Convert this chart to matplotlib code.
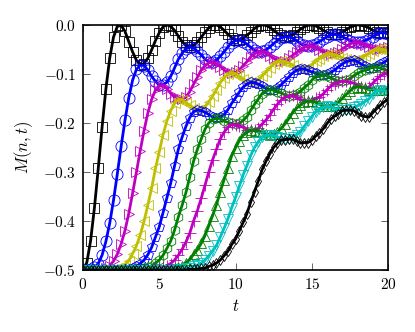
import matplotlib
matplotlib.use('Agg')
import matplotlib.pyplot as plt
from matplotlib.ticker import FuncFormatter

plt.rcParams['mathtext.fontset'] = 'cm'

t = [0.0, 0.25, 0.5, 0.75, 1.0, 1.25, 1.5, 1.75, 2.0, 2.25, 2.5, 2.75, 3.0, 3.25, 3.5, 3.75,
     4.0, 4.25, 4.5, 4.75, 5.0, 5.25, 5.5, 5.75, 6.0, 6.25, 6.5, 6.75, 7.0, 7.25, 7.5, 7.75,
     8.0, 8.25, 8.5, 8.75, 9.0, 9.25, 9.5, 9.75, 10.0, 10.25, 10.5, 10.75, 11.0, 11.25, 11.5, 11.75,
     12.0, 12.25, 12.5, 12.75, 13.0, 13.25, 13.5, 13.75, 14.0, 14.25, 14.5, 14.75, 15.0, 15.25, 15.5, 15.75,
     16.0, 16.25, 16.5, 16.75, 17.0, 17.25, 17.5, 17.75, 18.0, 18.25, 18.5, 18.75, 19.0, 19.25, 19.5, 19.75,
     20.0]

M1 = [-0.500, -0.485, -0.440, -0.373, -0.293, -0.209, -0.131, -0.068,
      -0.025, -0.003, -0.001, -0.013, -0.034, -0.055, -0.072, -0.081,
      -0.079, -0.068, -0.051, -0.032, -0.016, -0.004, -0.000, -0.003,
      -0.011, -0.023, -0.034, -0.042, -0.045, -0.042, -0.035, -0.025,
      -0.015, -0.006, -0.001, -0.000, -0.004, -0.011, -0.019, -0.026,
      -0.030, -0.031, -0.028, -0.021, -0.015, -0.007, -0.002, -0.000,
      -0.001, -0.005, -0.011, -0.017, -0.021, -0.024, -0.023, -0.020,
      -0.015, -0.009, -0.004, -0.001, -0.000, -0.002, -0.006, -0.011,
      -0.015, -0.018, -0.019, -0.018, -0.014, -0.010, -0.005, -0.002,
      -0.000, -0.001, -0.003, -0.006, -0.011, -0.014, -0.016, -0.016,
      -0.014]

M2 = [-0.500, -0.500, -0.499, -0.495, -0.487, -0.470, -0.442, -0.405,
      -0.358, -0.304, -0.248, -0.195, -0.149, -0.113, -0.091, -0.082,
      -0.083, -0.092, -0.105, -0.115, -0.123, -0.122, -0.117, -0.105,
      -0.088, -0.070, -0.058, -0.049, -0.045, -0.047, -0.054, -0.061,
      -0.070, -0.075, -0.076, -0.072, -0.064, -0.055, -0.045, -0.036,
      -0.032, -0.031, -0.034, -0.039, -0.046, -0.052, -0.055, -0.054,
      -0.051, -0.045, -0.038, -0.032, -0.026, -0.024, -0.025, -0.027,
      -0.032, -0.038, -0.041, -0.043, -0.042, -0.038, -0.034, -0.029,
      -0.024, -0.020, -0.019, -0.021, -0.024, -0.028, -0.032, -0.034,
      -0.035, -0.035, -0.032, -0.028, -0.024, -0.018, -0.016, -0.016,
      -0.018]

M3 = [-0.500, -0.500, -0.500, -0.500, -0.500, -0.499, -0.496, -0.491,
      -0.482, -0.468, -0.447, -0.420, -0.385, -0.344, -0.301, -0.257,
      -0.216, -0.180, -0.152, -0.133, -0.125, -0.124, -0.130, -0.140,
      -0.147, -0.151, -0.152, -0.147, -0.136, -0.121, -0.107, -0.092,
      -0.083, -0.077, -0.076, -0.080, -0.085, -0.092, -0.097, -0.098,
      -0.097, -0.092, -0.083, -0.075, -0.065, -0.059, -0.055, -0.055,
      -0.058, -0.063, -0.068, -0.072, -0.074, -0.073, -0.068, -0.062,
      -0.056, -0.050, -0.045, -0.044, -0.044, -0.046, -0.051, -0.055,
      -0.058, -0.059, -0.058, -0.055, -0.049, -0.044, -0.039, -0.036,
      -0.036, -0.038, -0.041, -0.045, -0.048, -0.049, -0.049, -0.047,
      -0.045]

M4 = [-0.500, -0.500, -0.500, -0.500, -0.500, -0.500, -0.500, -0.500,
      -0.499, -0.497, -0.494, -0.489, -0.481, -0.467, -0.451, -0.429,
      -0.401, -0.368, -0.333, -0.293, -0.259, -0.224, -0.196, -0.175,
      -0.160, -0.152, -0.153, -0.159, -0.164, -0.169, -0.173, -0.171,
      -0.167, -0.157, -0.145, -0.132, -0.118, -0.108, -0.101, -0.098,
      -0.100, -0.105, -0.110, -0.115, -0.117, -0.116, -0.112, -0.104,
      -0.096, -0.088, -0.080, -0.076, -0.074, -0.075, -0.078, -0.082,
      -0.087, -0.090, -0.089, -0.088, -0.082, -0.074, -0.069, -0.064,
      -0.060, -0.059, -0.061, -0.064, -0.067, -0.070, -0.072, -0.072,
      -0.070, -0.068, -0.063, -0.059, -0.054, -0.050, -0.049, -0.051,
      -0.054]

M5 = [-0.500, -0.500, -0.500, -0.500, -0.500, -0.500, -0.500, -0.500,
      -0.500, -0.500, -0.500, -0.499, -0.498, -0.496, -0.493, -0.487,
      -0.480, -0.469, -0.454, -0.433, -0.412, -0.383, -0.353, -0.323,
      -0.288, -0.254, -0.229, -0.207, -0.189, -0.177, -0.174, -0.175,
      -0.178, -0.183, -0.188, -0.191, -0.188, -0.183, -0.173, -0.160,
      -0.149, -0.137, -0.127, -0.121, -0.117, -0.118, -0.121, -0.125,
      -0.130, -0.132, -0.132, -0.129, -0.122, -0.114, -0.106, -0.098,
      -0.093, -0.090, -0.090, -0.093, -0.096, -0.098, -0.102, -0.103,
      -0.101, -0.097, -0.092, -0.086, -0.080, -0.075, -0.073, -0.072,
      -0.075, -0.080, -0.084, -0.087, -0.087, -0.083, -0.080, -0.076,
      -0.071]

M6 = [-0.500, -0.500, -0.500, -0.500, -0.500, -0.500, -0.500, -0.500,
      -0.500, -0.500, -0.500, -0.500, -0.500, -0.500, -0.499, -0.499,
      -0.497, -0.495, -0.492, -0.486, -0.480, -0.470, -0.456, -0.441,
      -0.419, -0.392, -0.368, -0.342, -0.310, -0.278, -0.254, -0.233,
      -0.213, -0.200, -0.193, -0.191, -0.191, -0.196, -0.199, -0.201,
      -0.203, -0.201, -0.195, -0.187, -0.174, -0.162, -0.151, -0.140,
      -0.135, -0.132, -0.133, -0.136, -0.139, -0.143, -0.145, -0.143,
      -0.141, -0.136, -0.128, -0.122, -0.113, -0.105, -0.104, -0.103,
      -0.104, -0.108, -0.112, -0.115, -0.115, -0.113, -0.110, -0.104,
      -0.099, -0.095, -0.092, -0.089, -0.087, -0.086, -0.088, -0.091,
      -0.094]

M7 = [-0.500, -0.500, -0.500, -0.500, -0.500, -0.500, -0.500, -0.500,
      -0.500, -0.500, -0.500, -0.500, -0.500, -0.500, -0.500, -0.500,
      -0.500, -0.500, -0.499, -0.498, -0.497, -0.495, -0.491, -0.487,
      -0.480, -0.470, -0.458, -0.443, -0.425, -0.400, -0.379, -0.354,
      -0.327, -0.300, -0.275, -0.254, -0.233, -0.219, -0.209, -0.203,
      -0.204, -0.206, -0.209, -0.214, -0.215, -0.215, -0.211, -0.202,
      -0.194, -0.184, -0.172, -0.162, -0.153, -0.148, -0.145, -0.144,
      -0.148, -0.152, -0.154, -0.156, -0.155, -0.150, -0.147, -0.141,
      -0.132, -0.125, -0.120, -0.117, -0.115, -0.115, -0.117, -0.119,
      -0.124, -0.127, -0.128, -0.127, -0.119, -0.111, -0.104, -0.100,
      -0.097]

M8 = [-0.500, -0.500, -0.500, -0.500, -0.500, -0.500, -0.500, -0.500,
      -0.500, -0.500, -0.500, -0.500, -0.500, -0.500, -0.500, -0.500,
      -0.500, -0.500, -0.500, -0.500, -0.500, -0.500, -0.499, -0.498,
      -0.496, -0.494, -0.491, -0.485, -0.479, -0.468, -0.459, -0.446,
      -0.430, -0.410, -0.389, -0.367, -0.340, -0.316, -0.292, -0.267,
      -0.251, -0.236, -0.225, -0.219, -0.215, -0.216, -0.218, -0.219,
      -0.223, -0.225, -0.223, -0.219, -0.211, -0.202, -0.191, -0.179,
      -0.170, -0.164, -0.158, -0.156, -0.156, -0.158, -0.162, -0.165,
      -0.166, -0.165, -0.163, -0.158, -0.150, -0.142, -0.135, -0.128,
      -0.126, -0.127, -0.129, -0.132, -0.132, -0.133, -0.133, -0.133,
      -0.131]

M9 = [-0.500, -0.500, -0.500, -0.500, -0.500, -0.500, -0.500, -0.500,
      -0.500, -0.500, -0.500, -0.500, -0.500, -0.500, -0.500, -0.500,
      -0.500, -0.500, -0.500, -0.500, -0.500, -0.500, -0.500, -0.500,
      -0.500, -0.499, -0.498, -0.497, -0.496, -0.492, -0.490, -0.486,
      -0.480, -0.471, -0.461, -0.450, -0.433, -0.415, -0.396, -0.373,
      -0.352, -0.329, -0.306, -0.287, -0.266, -0.250, -0.238, -0.228,
      -0.225, -0.225, -0.226, -0.229, -0.231, -0.233, -0.232, -0.228,
      -0.224, -0.218, -0.207, -0.197, -0.187, -0.177, -0.171, -0.168,
      -0.166, -0.167, -0.170, -0.173, -0.173, -0.174, -0.172, -0.168,
      -0.165, -0.161, -0.156, -0.151, -0.141, -0.135, -0.133, -0.134,
      -0.136]

M10 = [-0.500, -0.500, -0.500, -0.500, -0.500, -0.500, -0.500, -0.500,
       -0.500, -0.500, -0.500, -0.500, -0.500, -0.500, -0.500, -0.500,
       -0.500, -0.500, -0.500, -0.500, -0.500, -0.500, -0.500, -0.500,
       -0.500, -0.500, -0.500, -0.500, -0.499, -0.499, -0.498, -0.497,
       -0.496, -0.493, -0.490, -0.486, -0.480, -0.471, -0.462, -0.448,
       -0.437, -0.420, -0.403, -0.385, -0.361, -0.340, -0.318, -0.295,
       -0.278, -0.263, -0.250, -0.242, -0.235, -0.234, -0.233, -0.233,
       -0.237, -0.241, -0.240, -0.240, -0.235, -0.227, -0.221, -0.212,
       -0.201, -0.192, -0.186, -0.181, -0.175, -0.174, -0.174, -0.175,
       -0.180, -0.185, -0.187, -0.188, -0.179, -0.171, -0.164, -0.157,
       -0.152]

series = [M1, M2, M3, M4, M5, M6, M7, M8, M9, M10]
colors = ['k', 'b', 'm', 'y', 'b', 'g', 'm', 'g', 'c', 'k']
markers = ['s', 'o', '>', '<', 'p', 'h', '+', '^', 'v', 'd']
msizes = [7, 8, 7, 7, 7, 7, 8, 7, 7, 5.5]

xticks = [0, 5, 10, 15, 20]
yticks = [-0.5, -0.4, -0.3, -0.2, -0.1, 0.0]

fig = plt.figure(figsize=(4.15, 3.32), dpi=100)
ax = fig.add_axes([0.2, 0.187, 0.735, 0.738])

for M, c, m, s in zip(series, colors, markers, msizes):
    ax.plot(t, M, color=c, lw=2.0, marker=m, ms=s, mfc='none', mec=c, mew=0.6)

ax.set_xlim(0, 20)
ax.set_ylim(-0.5, 0.0)
ax.set_xticks(xticks)
ax.set_yticks(yticks)
ax.xaxis.set_major_formatter(FuncFormatter(lambda v, p: r'$%d$' % round(v)))
ax.yaxis.set_major_formatter(FuncFormatter(lambda v, p: r'$%.1f$' % v if abs(v) > 1e-9 else r'$0.0$'))
ax.tick_params(direction='in', top=True, right=True, length=5, width=0.6,
               labelsize=11, pad=5, color='0.3')
for sp in ax.spines.values():
    sp.set_linewidth(1.2)
ax.set_xlabel(r'$t$', fontsize=12, labelpad=4)
ax.set_ylabel(r'$M(n,t)$', fontsize=12, labelpad=6)

fig.savefig('out.png', dpi=100)
